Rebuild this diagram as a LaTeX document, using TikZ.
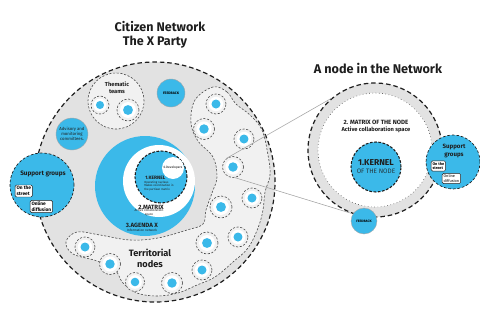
\documentclass[tikz,border=0pt]{standalone}
\usepackage{fontspec}
\setmainfont{Fira Sans}
\definecolor{cyanb}{HTML}{3BB9E9}
\definecolor{greyA}{HTML}{E2E2E2}
\definecolor{greyB}{HTML}{F1F1F1}
\definecolor{inkD}{HTML}{1E1E1E}
\begin{document}
\begin{tikzpicture}[x=0.75pt,y=-0.75pt,
  bigdash/.style={draw=inkD,line width=0.9pt,dash pattern=on 3.4pt off 2.2pt},
  thindash/.style={draw=inkD!80,line width=0.45pt,dash pattern=on 1.6pt off 1.2pt},
  disc/.style={circle,inner sep=0pt,minimum size=#1},
  tout/.style={disc=#1,fill=greyB,thindash},
  lbl/.style={inner sep=0pt,align=center,text=inkD},
  tag/.style={draw=inkD,line width=0.35pt,fill=white,rounded corners=1pt,inner sep=1pt,align=left,font=\fontsize{3.6}{4.2}\selectfont\bfseries},
  link/.style={draw=gray!75,line width=0.4pt}
]
\useasboundingbox (0,0) rectangle (480,322);

% ---------- big circle ----------
\node[disc=180pt,fill=greyA,bigdash] (big) at (155,182) {};

% territorial region
\draw[thindash,fill=greyB] plot[smooth cycle,tension=0.6] coordinates {
 (213,87) (227,92) (236,104) (250,115) (262,130) (268,155) (270,175)
 (265,192) (263,210) (258,228) (248,248) (233,262) (215,277) (197,285)
 (178,293) (157,296) (137,293) (123,283) (115,270) (97,261) (73,254)
 (66,242) (77,232) (100,235) (130,240) (158,238) (187,230) (203,224)
 (206,210) (212,193) (217,177) (213,157) (198,141) (191,123) (195,100)};

% thematic teams
\node[disc=42pt,fill=greyB,thindash] (them) at (116,101) {};
\node[lbl,font=\fontsize{4.3}{5}\selectfont\bfseries] (themt) at (117,88) {Thematic\\teams};

% feedback & advisory
\node[disc=21pt,fill=cyanb,draw=gray!70,line width=0.3pt,font=\fontsize{2.6}{3}\selectfont\bfseries] (fb) at (171,93) {FEEDBACK};
\node[disc=24pt,fill=cyanb,draw=gray!70,line width=0.3pt,lbl,font=\fontsize{3.2}{3.8}\selectfont] (adv) at (72,134) {Advisory and\\monitoring\\committees.};

% small nodes
\foreach \n/\x/\y/\r in {th1/100/105/9, th2/128/110/11,
  tn1/216/104/10, tn2/204/129/10.5, tn3/244/139/10, tn4/233/167/10.5,
  tn5/252/198/10, tn6/221/207/11, tn7/238/237/10, tn8/207/243/11,
  tn9/202/270/10, tn10/172/283/10.5, tn11/135/282/9.5, tn12/110/264/10.5,
  tn13/85/247/10}{
  \node[tout=1.5*\r pt] (\n) at (\x,\y) {};
  \fill[white] (\n.center) circle[radius=0.72*\r];
  \fill[cyanb] (\n.center) circle[radius=0.45*\r];
}

% ---------- agenda / matrix / kernel ----------
\node[disc=75pt,fill=cyanb] (agenda) at (145,186) {};
\node[disc=54pt,fill=white] (matrix) at (159,181) {};
\node[disc=39pt,fill=cyanb,draw=inkD,line width=0.8pt,dash pattern=on 2pt off 1.2pt] (kern) at (161,177) {};
\node[disc=16.5pt,fill=white,font=\fontsize{2.4}{3}\selectfont] (dev) at (173,168) {0.Developers};
\node[lbl,anchor=west,font=\fontsize{3.6}{4}\selectfont\bfseries] (kt) at (145,177.5) {1.KERNEL};
\node[lbl,anchor=north west,align=left,font=\fontsize{2.2}{2.7}\selectfont] (ks) at (144,180.5) {Operating nucleus\\Makes coordination in\\the partisan matrix};
\node[lbl,font=\fontsize{4.6}{5}\selectfont\bfseries] (mt) at (151,207) {2.MATRIX};
\node[lbl,font=\fontsize{2.4}{2.9}\selectfont] (ms) at (149,213) {Active collaboration\\space};
\node[lbl,font=\fontsize{4.6}{5}\selectfont\bfseries] (at) at (142,225) {3.AGENDA X};
\node[lbl,font=\fontsize{2.4}{2.9}\selectfont] (as) at (142,230) {Information network};

\node[lbl,font=\fontsize{6.9}{8.2}\selectfont\bfseries] (terr) at (150,258) {Territorial\\nodes};

% ---------- support groups (left) ----------
\node[disc=48pt,fill=cyanb,bigdash,line width=0.5pt,dash pattern=on 2pt off 1.4pt] (sup) at (42,185) {};
\node[lbl,font=\fontsize{4.8}{5.5}\selectfont\bfseries] (supt) at (43,174) {Support groups};
\node[tag,anchor=west] (st1) at (15,191) {On the\\street};
\node[tag,anchor=west] (st2) at (30,206.5) {Online\\diffusion};

% ---------- titles ----------
\node[lbl,font=\fontsize{9.4}{11}\selectfont\bfseries] (t1) at (160,27) {Citizen Network};
\node[lbl,font=\fontsize{9.4}{11}\selectfont\bfseries] (t2) at (155,42) {The X Party};
\node[lbl,font=\fontsize{9.5}{11}\selectfont\bfseries] (t3) at (378,68) {A node in the Network};

% ---------- right detail ----------
\node[disc=100.5pt,fill=greyA,bigdash] (ring) at (375,150) {};
\draw[link] (tn4.125) -- (ring.130);
\draw[link] (tn4.-80) -- (ring.250);
\node[disc=85.5pt,fill=white,draw=inkD!80,line width=0.45pt,dotted] (rmat) at (375,150) {};
\node[lbl,font=\fontsize{4.6}{5.4}\selectfont\bfseries] (rmt) at (376,122) {2. MATRIX OF THE NODE};
\node[lbl,font=\fontsize{4.3}{5}\selectfont\bfseries] (rms) at (376,130) {Active collaboration space};
\node[disc=37.5pt,fill=cyanb,draw=inkD,line width=0.8pt,dash pattern=on 2pt off 1.2pt] (rker) at (376,167) {};
\node[lbl,font=\fontsize{6.4}{7}\selectfont\bfseries] (rkt) at (376,163) {1.KERNEL};
\node[lbl,font=\fontsize{4.8}{5.5}\selectfont,text=inkD!85!cyanb] (rks) at (376,171) {OF THE NODE};
\node[disc=40.5pt,fill=cyanb,draw=inkD,line width=0.5pt,dash pattern=on 2pt off 1.4pt] (rsup) at (453,162) {};
\node[lbl,font=\fontsize{4.6}{5.4}\selectfont\bfseries] (rsupt) at (454,151) {Support\\groups};
\node[tag,anchor=west,font=\fontsize{2.9}{3.4}\selectfont\bfseries] (rst1) at (431,166) {On the\\street};
\node[tag,anchor=west,font=\fontsize{2.9}{3.4}\selectfont] (rst2) at (442,178.5) {Online\\diffusion};
\node[disc=19.5pt,fill=cyanb,draw=gray!70,line width=0.3pt,font=\fontsize{2.5}{3}\selectfont\bfseries] (rfb) at (364,221) {FEEDBACK};
\end{tikzpicture}
\end{document}
